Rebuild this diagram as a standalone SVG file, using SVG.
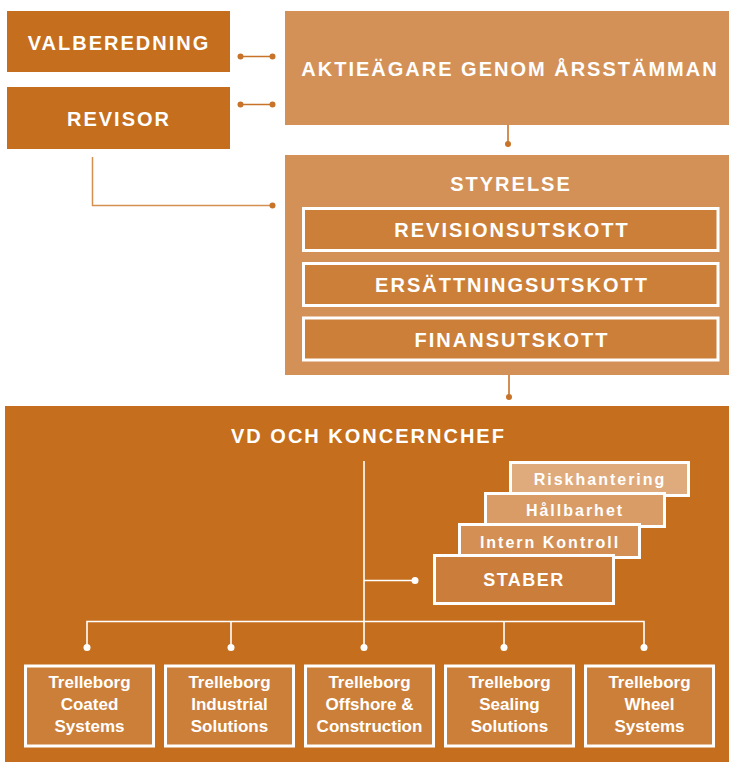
<svg xmlns="http://www.w3.org/2000/svg" width="729" height="762" viewBox="0 0 729 762">
<style>
.cap{font-family:"Liberation Sans",Arial,sans-serif;font-weight:bold;font-size:20px;letter-spacing:2px;fill:#fff;text-anchor:middle}
.stk{font-family:"Liberation Sans",Arial,sans-serif;font-weight:bold;font-size:16px;letter-spacing:2px;fill:#fff;text-anchor:middle}
.sub{font-family:"Liberation Sans",Arial,sans-serif;font-weight:bold;font-size:17px;fill:#fff;text-anchor:middle}
.dark{fill:#c46e1e}
.light{fill:#d39157}
.inner{fill:#cc7f39;stroke:#fff;stroke-width:3}
.oline{stroke:#c8732a;stroke-width:1.6;fill:none}
.wline{stroke:#fff;stroke-width:1.6;fill:none}
.odot{fill:#c8732a}
.wdot{fill:#fff}
</style>
<rect width="729" height="762" fill="#fff"/>
<g id="valberedning">
<rect class="dark" x="7" y="11" width="223" height="61"/>
<text class="cap" x="119" y="50">VALBEREDNING</text>
</g>
<g id="revisor">
<rect class="dark" x="7" y="87" width="223" height="62"/>
<text class="cap" x="119" y="126">REVISOR</text>
</g>
<g id="aktieagare">
<rect class="light" x="285" y="11" width="444" height="114"/>
<text class="cap" x="510" y="76">AKTIEÄGARE GENOM ÅRSSTÄMMAN</text>
</g>
<g id="styrelse">
<rect class="light" x="285" y="155" width="444" height="220"/>
<text class="cap" x="511" y="191">STYRELSE</text>
</g>
<g id="revisionsutskott">
<rect class="inner" x="303.5" y="208.5" width="414.5" height="42"/>
<text class="cap" x="512" y="237">REVISIONSUTSKOTT</text>
</g>
<g id="ersattningsutskott">
<rect class="inner" x="303.5" y="263.5" width="414.5" height="42"/>
<text class="cap" x="512" y="292">ERSÄTTNINGSUTSKOTT</text>
</g>
<g id="finansutskott">
<rect class="inner" x="303.5" y="318" width="414.5" height="42"/>
<text class="cap" x="512" y="347">FINANSUTSKOTT</text>
</g>
<g id="vd">
<rect class="dark" x="5" y="406" width="724" height="356"/>
<text class="cap" x="231" y="443" style="text-anchor:start">VD OCH KONCERNCHEF</text>
</g>
<g id="riskhantering">
<rect x="510.5" y="462.5" width="178" height="33" fill="#e0ab7c" stroke="#fff" stroke-width="3"/>
<text class="stk" x="600" y="485">Riskhantering</text>
</g>
<g id="hallbarhet">
<rect x="485.5" y="493.5" width="179" height="33" fill="#da9c66" stroke="#fff" stroke-width="3"/>
<text class="stk" x="575" y="516">Hållbarhet</text>
</g>
<g id="internkontroll">
<rect x="459.5" y="524.5" width="180" height="33" fill="#d48f55" stroke="#fff" stroke-width="3"/>
<text class="stk" x="550" y="548">Intern Kontroll</text>
</g>
<g id="staber">
<rect x="434.5" y="555.5" width="179" height="48" fill="#cb7d3b" stroke="#fff" stroke-width="3"/>
<text class="stk" x="524" y="586" style="font-size:18px;letter-spacing:1.5px">STABER</text>
</g>
<g id="tcs">
<rect class="inner" x="25.5" y="666" width="128" height="80"/>
<text class="sub" x="89.5" y="688">Trelleborg</text>
<text class="sub" x="89.5" y="710">Coated</text>
<text class="sub" x="89.5" y="732">Systems</text>
</g>
<g id="tis">
<rect class="inner" x="165.5" y="666" width="128" height="80"/>
<text class="sub" x="229.5" y="688">Trelleborg</text>
<text class="sub" x="229.5" y="710">Industrial</text>
<text class="sub" x="229.5" y="732">Solutions</text>
</g>
<g id="toc">
<rect class="inner" x="305.5" y="666" width="128" height="80"/>
<text class="sub" x="369.5" y="688">Trelleborg</text>
<text class="sub" x="369.5" y="710">Offshore &amp;</text>
<text class="sub" x="369.5" y="732">Construction</text>
</g>
<g id="tss">
<rect class="inner" x="445.5" y="666" width="128" height="80"/>
<text class="sub" x="509.5" y="688">Trelleborg</text>
<text class="sub" x="509.5" y="710">Sealing</text>
<text class="sub" x="509.5" y="732">Solutions</text>
</g>
<g id="tws">
<rect class="inner" x="585.5" y="666" width="128" height="80"/>
<text class="sub" x="649.5" y="688">Trelleborg</text>
<text class="sub" x="649.5" y="710">Wheel</text>
<text class="sub" x="649.5" y="732">Systems</text>
</g>
<g id="connectors">
<line class="oline" x1="240.5" y1="56.5" x2="272.5" y2="56.5"/>
<circle class="odot" cx="240.5" cy="56.5" r="3"/>
<circle class="odot" cx="272.5" cy="56.5" r="3"/>
<line class="oline" x1="240.5" y1="104.5" x2="272.5" y2="104.5"/>
<circle class="odot" cx="240.5" cy="104.5" r="3"/>
<circle class="odot" cx="272.5" cy="104.5" r="3"/>
<polyline points="92.5,157 92.5,205.5 272.5,205.5" style="stroke:#d4904f;stroke-width:1.5;fill:none"/>
<circle class="odot" cx="272.5" cy="205.5" r="3"/>
<line class="oline" x1="508" y1="125" x2="508" y2="144"/>
<circle class="odot" cx="508" cy="144" r="3"/>
<line class="oline" x1="509" y1="375" x2="509" y2="397"/>
<circle class="odot" cx="509" cy="397" r="3"/>
<line class="wline" x1="364" y1="461" x2="364" y2="647"/>
<line class="wline" x1="364" y1="580.5" x2="415" y2="580.5"/>
<circle class="wdot" cx="415" cy="580.5" r="3.5"/>
<polyline class="wline" points="87,647 87,621.5 644,621.5 644,647"/>
<line class="wline" x1="231" y1="621.5" x2="231" y2="647"/>
<line class="wline" x1="504" y1="621.5" x2="504" y2="647"/>
<circle class="wdot" cx="87" cy="647.5" r="3.5"/>
<circle class="wdot" cx="231" cy="647.5" r="3.5"/>
<circle class="wdot" cx="364" cy="647.5" r="3.5"/>
<circle class="wdot" cx="504" cy="647.5" r="3.5"/>
<circle class="wdot" cx="644" cy="647.5" r="3.5"/>
</g>
</svg>
